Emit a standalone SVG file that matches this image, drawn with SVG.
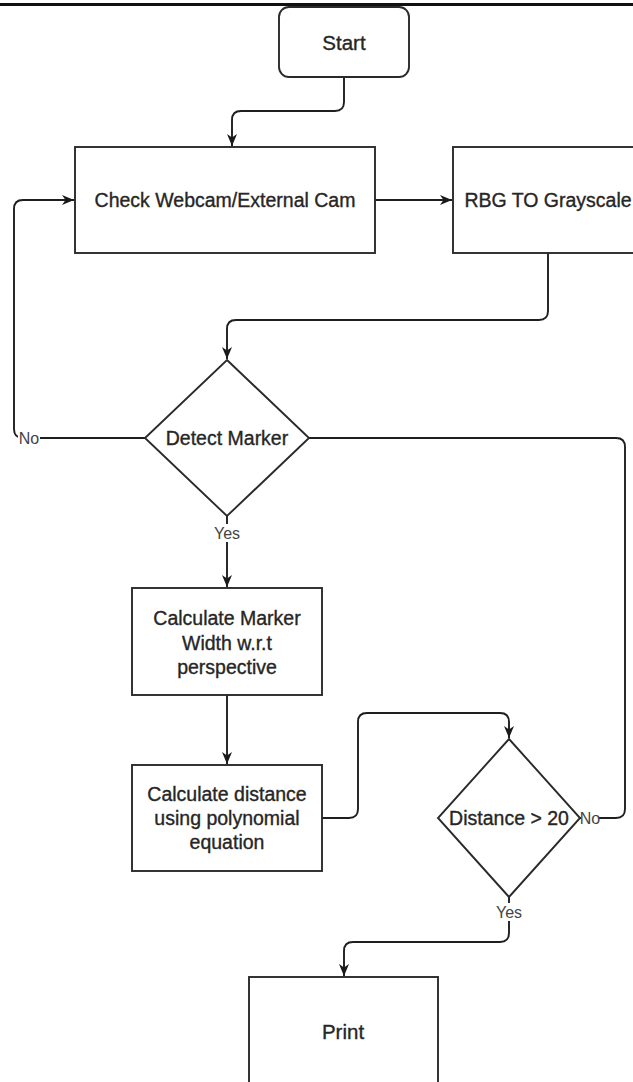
<svg xmlns="http://www.w3.org/2000/svg" width="633" height="1082" viewBox="0 0 633 1082">
<defs>
<marker id="arr" viewBox="0 0 12 11" refX="12" refY="5.5" markerWidth="12" markerHeight="11" markerUnits="userSpaceOnUse" orient="auto">
<path d="M0,0.5 L12,5.5 L0,10.5 L3.5,5.5 z" fill="#1a1a1a"/>
</marker>
<style>
.box{fill:#fff;stroke:#2a2a2a;stroke-width:1.9}
.edge{fill:none;stroke:#1f1f1f;stroke-width:1.9}
.t{font-family:"Liberation Sans",Arial,sans-serif;font-size:19.5px;fill:#262626;stroke:#262626;stroke-width:0.35;text-anchor:middle}
.big{font-size:20.5px}
.lbl{font-family:"Liberation Sans",Arial,sans-serif;font-size:16px;fill:#444;text-anchor:middle}
.bg{fill:#fff}
</style>
</defs>
<rect width="633" height="1082" fill="#fff"/>
<line x1="0" y1="4.5" x2="633" y2="4.5" stroke="#111" stroke-width="3"/>
<g id="connectors">
<path class="edge" d="M344,77 L344,102 Q344,111 335,111 L241,111 Q232,111 232,120 L232,146" marker-end="url(#arr)"/>
<path class="edge" d="M375,200 L452,200" marker-end="url(#arr)"/>
<path class="edge" d="M548,253 L548,311 Q548,320 539,320 L236,320 Q227,320 227,329 L227,359" marker-end="url(#arr)"/>
<path class="edge" d="M145,438 L23,438 Q14,438 14,429 L14,209 Q14,200 23,200 L74,200" marker-end="url(#arr)"/>
<path class="edge" d="M309,438 L616,438 Q625,438 625,447 L625,809 Q625,818 616,818 L580,818"/>
<path class="edge" d="M227,516 L227,587" marker-end="url(#arr)"/>
<path class="edge" d="M227,695 L227,764" marker-end="url(#arr)"/>
<path class="edge" d="M322,818 L349,818 Q358,818 358,809 L358,722 Q358,713 367,713 L500,713 Q509,713 509,722 L509,738" marker-end="url(#arr)"/>
<path class="edge" d="M509,897 L509,933 Q509,942 500,942 L353,942 Q344,942 344,951 L344,976" marker-end="url(#arr)"/>
<rect class="bg" x="18" y="430" width="22" height="17"/>
<text class="lbl" x="29" y="444">No</text>
<rect class="bg" x="213" y="524" width="28" height="18"/>
<text class="lbl" x="227" y="539">Yes</text>
<rect class="bg" x="581" y="810" width="18" height="17"/>
<text class="lbl" x="590" y="824">No</text>
<rect class="bg" x="495" y="903" width="28" height="18"/>
<text class="lbl" x="509" y="918">Yes</text>
</g>
<g id="start">
<rect class="box" x="279" y="7" width="130" height="70" rx="10"/>
<text class="t big" x="344" y="50">Start</text>
</g>
<g id="check">
<rect class="box" x="75" y="147" width="300" height="106"/>
<text class="t" x="225" y="207">Check Webcam/External Cam</text>
</g>
<g id="rbg">
<rect class="box" x="453" y="147" width="190" height="106"/>
<text class="t" x="548" y="207">RBG TO Grayscale</text>
</g>
<g id="detect">
<polygon class="box" points="227,360 309,438 227,516 145,438"/>
<text class="t" x="227" y="445">Detect Marker</text>
</g>
<g id="calcmarker">
<rect class="box" x="132" y="588" width="190" height="107"/>
<text class="t" x="227" y="625">Calculate Marker</text>
<text class="t" x="227" y="650">Width w.r.t</text>
<text class="t" x="227" y="674">perspective</text>
</g>
<g id="calcdist">
<rect class="box" x="132" y="765" width="190" height="106"/>
<text class="t" x="227" y="801">Calculate distance</text>
<text class="t" x="227" y="825">using polynomial</text>
<text class="t" x="227" y="849">equation</text>
</g>
<g id="distance">
<polygon class="box" points="509,739 580,818 509,897 438,818"/>
<text class="t" x="509" y="825">Distance &gt; 20</text>
</g>
<g id="print">
<rect class="box" x="249" y="977" width="189" height="110"/>
<text class="t big" x="343" y="1039">Print</text>
</g>
</svg>
